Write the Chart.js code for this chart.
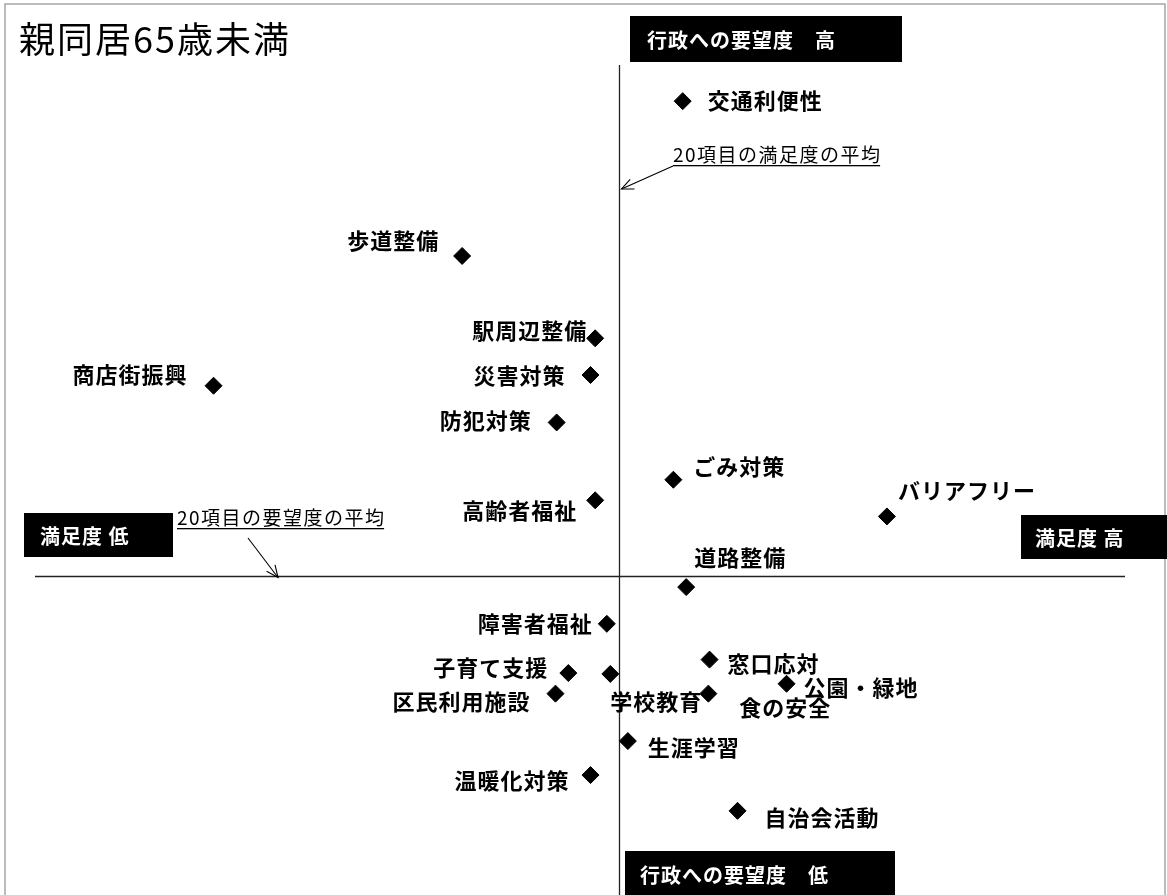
<!DOCTYPE html>
<html lang="ja">
<head>
<meta charset="utf-8">
<title>親同居65歳未満</title>
<script src="https://cdn.jsdelivr.net/npm/chart.js@4"></script>
<style>
  html,body{margin:0;padding:0;background:#fff;}
  #wrap{position:relative;width:1167px;height:895px;}
</style>
</head>
<body>
<div id="wrap"><canvas id="chart"></canvas></div>
<script>
// data (no ticks, so an arbitrary 0-100 scale)
const items = ["交通利便性","歩道整備","駅周辺整備","災害対策","商店街振興","防犯対策","ごみ対策","高齢者福祉",
  "バリアフリー","道路整備","障害者福祉","子育て支援","食の安全","窓口応対","公園・緑地","区民利用施設",
  "学校教育","生涯学習","温暖化対策","自治会活動"];
const satisfaction = [58.5,39.6,51.0,50.6,18.3,47.7,57.7,51.0,76.0,58.8,52.0,48.7,52.3,60.8,67.4,47.6,60.7,53.8,50.6,63.2];
const demand       = [88.7,71.4,62.2,58.1,56.9,52.8,46.4,44.1,42.3,34.4,30.3,24.8,24.7,26.3,23.6,22.5,22.5,17.2,13.4,9.4];
const avgSatisfaction = 53.0;
const avgDemand = 35.6;

const title = "親同居65歳未満";
const cornerLabels = ["行政への要望度　高","行政への要望度　低","満足度 低","満足度 高"];
const avgNotes = ["20項目の満足度の平均","20項目の要望度の平均"];

// label placement next to each diamond: [dx, dy, align]
const labelPos = [[25,0,"left"],[-24,-15,"right"],[-9,-8,"right"],[-26,1,"right"],[-27,-11,"right"],
  [-26,-2,"right"],[20,-13,"left"],[-19,10,"right"],[11,-26,"left"],[8,-29,"left"],[-15,0,"right"],
  [-21,-5,"right"],[129,34,"left"],[18,4,"left"],[17,4,"left"],[-26,8,"right"],[-7,8,"right"],
  [20,7,"left"],[-22,6,"right"],[27,7,"left"]];

const fontJP = '"Noto Sans CJK JP", "Noto Sans", sans-serif';

// black boxes: x, y, w, h, text x
const boxes = [[630,16,272,46,647],[625,851,270,46,640],[24,513,149,44,40],[1021,515,146,44,1035]];

function arrow(ctx, x1, y1, x2, y2){
  ctx.beginPath(); ctx.moveTo(x1,y1); ctx.lineTo(x2,y2); ctx.stroke();
  const a = Math.atan2(y2-y1, x2-x1), L = 13, s = 0.42;
  ctx.beginPath();
  ctx.moveTo(x2 - L*Math.cos(a-s), y2 - L*Math.sin(a-s));
  ctx.lineTo(x2, y2);
  ctx.lineTo(x2 - L*Math.cos(a+s), y2 - L*Math.sin(a+s));
  ctx.stroke();
}

function note(ctx, text, x, y){
  ctx.font = "19px " + fontJP;
  ctx.letterSpacing = "1.5px";
  ctx.textAlign = "left";
  ctx.textBaseline = "alphabetic";
  ctx.fillStyle = "#000";
  ctx.fillText(text, x, y);
  const w = ctx.measureText(text).width - 1.5;
  ctx.fillRect(x, y + 3, w, 1.3);
}

const decor = {
  id: "decor",
  beforeDatasetsDraw(chart){
    const ctx = chart.ctx, xs = chart.scales.x, ys = chart.scales.y;
    ctx.save();
    // frame
    ctx.strokeStyle = "#a6a6a6"; ctx.lineWidth = 1.5;
    ctx.strokeRect(5, 4, 1160, 900);
    // average lines
    const vx = Math.round(xs.getPixelForValue(avgSatisfaction)) + 0.5;
    const hy = Math.round(ys.getPixelForValue(avgDemand)) + 0.5;
    ctx.strokeStyle = "#222"; ctx.lineWidth = 1.3;
    ctx.beginPath();
    ctx.moveTo(vx, 65); ctx.lineTo(vx, 895);
    ctx.moveTo(35, hy); ctx.lineTo(1125, hy);
    ctx.stroke();
    // title
    ctx.fillStyle = "#000";
    ctx.font = "36px " + fontJP;
    ctx.letterSpacing = "2px";
    ctx.textBaseline = "alphabetic";
    ctx.fillText(title, 19, 53);
    // notes + arrows
    note(ctx, avgNotes[0], 673, 162);
    note(ctx, avgNotes[1], 177, 525);
    ctx.strokeStyle = "#000"; ctx.lineWidth = 1.1;
    arrow(ctx, 673, 166, vx + 2, 189);
    arrow(ctx, 248, 538, 278, hy + 1);
    // black corner boxes
    ctx.font = "bold 20px " + fontJP;
    ctx.letterSpacing = "1px";
    ctx.textBaseline = "middle";
    boxes.forEach((b, i) => {
      ctx.fillStyle = "#000";
      ctx.fillRect(b[0], b[1], b[2], b[3]);
      ctx.fillStyle = "#fff";
      ctx.fillText(cornerLabels[i], b[4], b[1] + b[3]/2 + 1);
    });
    ctx.restore();
  },
  afterDatasetsDraw(chart){
    const ctx = chart.ctx;
    const pts = chart.getDatasetMeta(0).data;
    ctx.save();
    ctx.fillStyle = "#000";
    ctx.font = "bold 22px " + fontJP;
    ctx.letterSpacing = "1px";
    ctx.textBaseline = "middle";
    pts.forEach((p, i) => {
      const [dx, dy, al] = labelPos[i];
      ctx.textAlign = al;
      ctx.fillText(items[i], p.x + dx + (al === "right" ? 1 : 0), p.y + dy);
    });
    ctx.restore();
  }
};

new Chart(document.getElementById("chart"), {
  type: "scatter",
  data: {
    labels: items,
    datasets: [{
      data: satisfaction.map((v, i) => ({x: v, y: demand[i]})),
      pointStyle: "rectRot",
      pointRadius: 8.5,
      pointBackgroundColor: "#000",
      pointBorderColor: "#000",
      pointBorderWidth: 1,
      clip: false
    }]
  },
  options: {
    responsive: true,
    maintainAspectRatio: false,
    animation: false,
    layout: { padding: 0, autoPadding: false },
    plugins: { legend: {display: false}, tooltip: {enabled: false} },
    scales: {
      x: { type: "linear", min: 0, max: 100, display: false },
      y: { type: "linear", min: 0, max: 100, display: false }
    }
  },
  plugins: [decor]
});
</script>
</body>
</html>
